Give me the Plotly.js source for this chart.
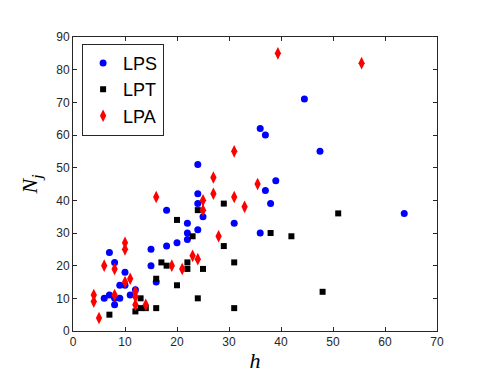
<!DOCTYPE html>
<html>
<head>
<meta charset="utf-8">
<script src="https://cdn.plot.ly/plotly-3.0.1.min.js"></script>
<style>
  body { margin: 0; background: #fff; }
  #plot { width: 498px; height: 385px; }
</style>
</head>
<body>
<div id="plot"></div>
<script>
// LPS (blue circles)
var lpsH = [6, 7, 7, 8, 8, 8, 9, 9, 10, 10, 11, 12, 15, 15, 16, 18, 18, 20, 22, 22, 22, 24, 24, 24, 24, 25, 31, 36, 36, 37, 37, 38, 39, 44.5, 47.5, 63.7];
var lpsN = [10, 11, 24, 21, 8, 10, 10, 14, 14, 18, 11, 12.6, 25, 20, 15, 26, 37, 27, 28, 30, 33, 31, 39, 42, 51, 35, 33, 30, 62, 60, 43, 39, 46, 71, 55, 36];

// LPT (black squares)
var lptH = [7, 12, 13, 13, 14, 16, 16, 17, 18, 20, 20, 22, 22, 23, 24, 24, 25, 29, 29, 31, 31, 38, 42, 48, 51];
var lptN = [5, 6, 10, 7, 7, 7, 16, 21, 20, 34, 14, 21, 19, 29, 37, 10, 19, 39, 26, 21, 7, 30, 29, 12, 36];

// LPA (red diamonds)
var lpaH = [4, 4, 5, 6, 8, 8, 10, 10, 10, 11, 12, 12, 12, 14, 16, 19, 21, 23, 24, 25, 25, 27, 27, 28, 31, 31, 33, 35.5, 39.4, 55.5];
var lpaN = [11, 9, 4, 20, 19, 11, 27, 25, 15, 16, 12, 10.5, 8, 8, 41, 20, 19, 23, 22, 40, 37, 47, 42, 29, 55, 41, 38, 45, 85, 82];

var xTicks = [0, 10, 20, 30, 40, 50, 60, 70];
var yTicks = [0, 10, 20, 30, 40, 50, 60, 70, 80, 90];

var trace1 = {
    x: lpsH, y: lpsN, name: 'LPS',
    mode: 'markers', type: 'scatter',
    marker: {symbol: 'circle', size: 7, color: '#0000ff'}
};
var trace2 = {
    x: lptH, y: lptN, name: 'LPT',
    mode: 'markers', type: 'scatter',
    marker: {symbol: 'square', size: 6, color: '#000000'}
};
var trace3 = {
    x: lpaH, y: lpaN, name: 'LPA',
    mode: 'markers', type: 'scatter',
    marker: {symbol: 'diamond-tall', size: 9, color: '#ff0000'}
};

var axisStyle = {
    showgrid: false, zeroline: false,
    showline: true, linecolor: '#262626', linewidth: 1,
    mirror: 'ticks', ticks: 'inside', ticklen: 4, tickcolor: '#262626',
    tickfont: {family: 'Liberation Sans, Arial, sans-serif', size: 12, color: '#262626'}
};

var layout = {
    width: 498, height: 385,
    margin: {l: 73, r: 61, t: 37, b: 54},
    paper_bgcolor: '#fff', plot_bgcolor: '#fff',
    showlegend: true,
    legend: {
        x: 0.025, y: 0.977, xanchor: 'left', yanchor: 'top',
        bgcolor: '#fff', bordercolor: '#262626', borderwidth: 1,
        font: {family: 'Liberation Sans, Arial, sans-serif', size: 18, color: '#000'},
        itemsizing: 'trace', tracegroupgap: 2
    },
    xaxis: Object.assign({}, axisStyle, {
        range: [0, 70], tickvals: xTicks,
        title: {text: '<i>h</i>', font: {family: 'Liberation Serif, Times New Roman, serif', size: 22, color: '#000'}, standoff: 4}
    }),
    yaxis: Object.assign({}, axisStyle, {
        range: [0, 90], tickvals: yTicks,
        title: {text: '<i>N<sub>j</sub></i>', font: {family: 'Liberation Serif, Times New Roman, serif', size: 22, color: '#000'}, standoff: 12}
    })
};

Plotly.newPlot('plot', [trace1, trace2, trace3], layout, {displayModeBar: false});
</script>
</body>
</html>
